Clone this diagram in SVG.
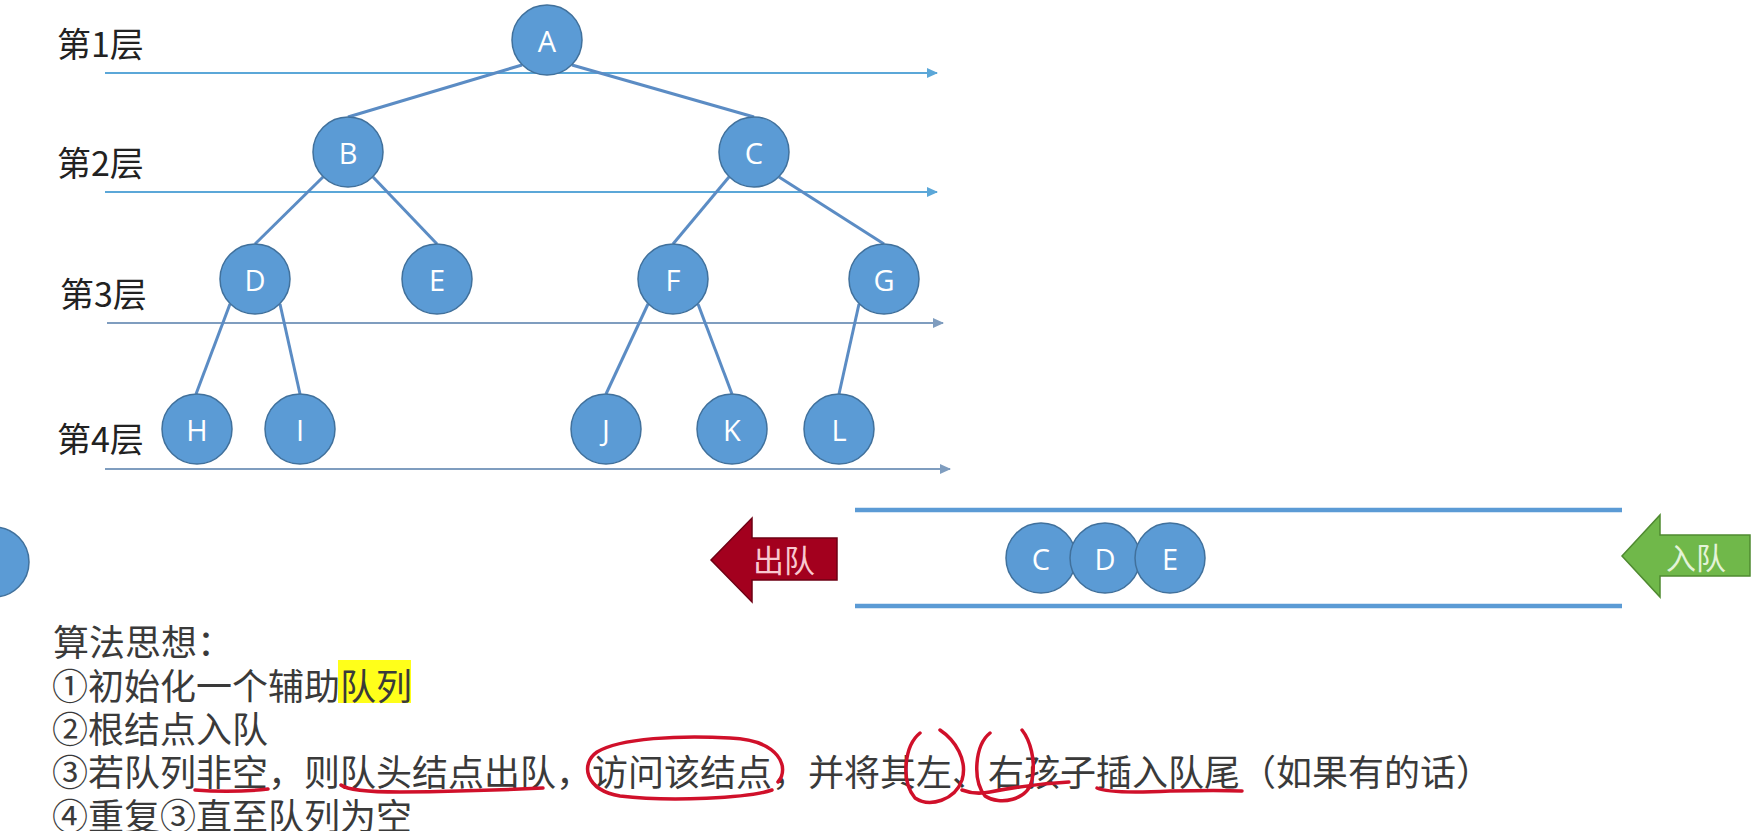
<svg xmlns="http://www.w3.org/2000/svg" width="1764" height="831" viewBox="0 0 1764 831">
<defs>
<marker id="ah1" markerWidth="12" markerHeight="10" refX="10" refY="5" orient="auto" markerUnits="userSpaceOnUse"><path d="M0,0 L11,5 L0,10 Z" fill="#5ba7d8"/></marker>
<marker id="ah2" markerWidth="12" markerHeight="10" refX="10" refY="5" orient="auto" markerUnits="userSpaceOnUse"><path d="M0,0 L11,5 L0,10 Z" fill="#7f9dbf"/></marker>
<style>
.nd{fill:#5b9bd5;stroke:#41719c;stroke-width:1.5}
.nt{fill:#ffffff;font-family:"Open Sans","Liberation Sans",sans-serif;font-size:29px;text-anchor:middle;dominant-baseline:central}
.edge{stroke:#5b8cc4;stroke-width:3;fill:none}
.lvl1{stroke:#5ba7d8;stroke-width:2;fill:none;marker-end:url(#ah1)}
.lvl2{stroke:#7f9dbf;stroke-width:2;fill:none;marker-end:url(#ah2)}
.lbl{font-family:"Noto Sans CJK SC","Noto Sans",sans-serif;font-size:34px;fill:#222}
.body{font-family:"Noto Sans CJK SC","Noto Sans",sans-serif;font-size:36px;fill:#3a3a3a}
.qline{stroke:#5b9bd5;stroke-width:4.5}
.red{stroke:#d0102a;stroke-width:3.5;fill:none;stroke-linecap:round;stroke-linejoin:round}
</style>
</defs>
<rect width="1764" height="831" fill="#ffffff"/>

<g id="levels">
<line class="lvl1" x1="105" y1="73" x2="937" y2="73"/>
<line class="lvl1" x1="105" y1="192" x2="937" y2="192"/>
<line class="lvl2" x1="107" y1="323" x2="943" y2="323"/>
<line class="lvl2" x1="105" y1="469" x2="950" y2="469"/>
<text class="lbl" x="57" y="57">第1层</text>
<text class="lbl" x="57" y="176">第2层</text>
<text class="lbl" x="60" y="307">第3层</text>
<text class="lbl" x="57" y="452">第4层</text>
</g>

<g id="connectors">
<line class="edge" x1="522" y1="65" x2="348" y2="117"/>
<line class="edge" x1="572" y1="65" x2="754" y2="117"/>
<line class="edge" x1="323" y1="177" x2="255" y2="244"/>
<line class="edge" x1="373" y1="177" x2="437" y2="244"/>
<line class="edge" x1="729" y1="177" x2="673" y2="244"/>
<line class="edge" x1="779" y1="177" x2="884" y2="244"/>
<line class="edge" x1="230" y1="304" x2="196" y2="394"/>
<line class="edge" x1="280" y1="304" x2="300" y2="394"/>
<line class="edge" x1="648" y1="304" x2="606" y2="394"/>
<line class="edge" x1="698" y1="304" x2="732" y2="394"/>
<line class="edge" x1="859" y1="304" x2="839" y2="394"/>
</g>

<g id="node-A"><circle class="nd" cx="547" cy="40" r="35"/><text class="nt" x="547" y="40">A</text></g>
<g id="node-B"><circle class="nd" cx="348" cy="152" r="35"/><text class="nt" x="348" y="152">B</text></g>
<g id="node-C"><circle class="nd" cx="754" cy="152" r="35"/><text class="nt" x="754" y="152">C</text></g>
<g id="node-D"><circle class="nd" cx="255" cy="279" r="35"/><text class="nt" x="255" y="279">D</text></g>
<g id="node-E"><circle class="nd" cx="437" cy="279" r="35"/><text class="nt" x="437" y="279">E</text></g>
<g id="node-F"><circle class="nd" cx="673" cy="279" r="35"/><text class="nt" x="673" y="279">F</text></g>
<g id="node-G"><circle class="nd" cx="884" cy="279" r="35"/><text class="nt" x="884" y="279">G</text></g>
<g id="node-H"><circle class="nd" cx="197" cy="429" r="35"/><text class="nt" x="197" y="429">H</text></g>
<g id="node-I"><circle class="nd" cx="300" cy="429" r="35"/><text class="nt" x="300" y="429">I</text></g>
<g id="node-J"><circle class="nd" cx="606" cy="429" r="35"/><text class="nt" x="606" y="429">J</text></g>
<g id="node-K"><circle class="nd" cx="732" cy="429" r="35"/><text class="nt" x="732" y="429">K</text></g>
<g id="node-L"><circle class="nd" cx="839" cy="429" r="35"/><text class="nt" x="839" y="429">L</text></g>

<g id="node-B-out"><circle class="nd" cx="-6" cy="562" r="35"/></g>

<g id="queue">
<line class="qline" x1="855" y1="510" x2="1622" y2="510"/>
<line class="qline" x1="855" y1="606" x2="1622" y2="606"/>
</g>
<g id="q-C"><circle class="nd" cx="1041" cy="558" r="35"/><text class="nt" x="1041" y="558">C</text></g>
<g id="q-D"><circle class="nd" cx="1105" cy="558" r="35"/><text class="nt" x="1105" y="558">D</text></g>
<g id="q-E"><circle class="nd" cx="1170" cy="558" r="35"/><text class="nt" x="1170" y="558">E</text></g>

<g id="dequeue">
<path d="M711,560 L752,518 L752,538 L837,538 L837,580 L752,580 L752,602 Z" fill="#a3001e" stroke="#6e0014" stroke-width="1.5"/>
<text x="753" y="572" font-family="'Noto Sans CJK SC',sans-serif" font-size="31" fill="#f9c8d0">出队</text>
</g>
<g id="enqueue">
<path d="M1622,556 L1660,515 L1660,535 L1750,535 L1750,576 L1660,576 L1660,597 Z" fill="#70b84a" stroke="#4f8a30" stroke-width="1.5"/>
<text x="1666" y="569" font-family="'Noto Sans CJK SC',sans-serif" font-size="30" fill="#e4f3d8">入队</text>
</g>

<g id="algorithm">
<rect x="338" y="660" width="73" height="43" fill="#ffff1a"/>
<text class="body" x="53" y="656">算法思想：</text>
<text class="body" x="52" y="700">①初始化一个辅助队列</text>
<text class="body" x="52" y="743">②根结点入队</text>
<text class="body" x="52" y="786" textLength="1440" lengthAdjust="spacing">③若队列非空，则队头结点出队，访问该结点，并将其左、右孩子插入队尾（如果有的话）</text>
<text class="body" x="52" y="830">④重复③直至队列为空</text>
</g>

<g id="annotations">
<path class="red" d="M195,790 Q232,793 268,789"/>
<path class="red" d="M341,785 Q350,792 400,792 Q480,791 543,788"/>
<path class="red" d="M778,782 C790,768 780,740 730,738 C680,735 620,738 597,752 C580,764 585,790 620,796 C670,802 750,798 772,790"/>
<path class="red" d="M920,733 C905,745 900,780 915,798 C930,808 955,800 962,780 C968,760 955,740 940,730"/>
<path class="red" d="M990,733 C975,745 972,780 985,796 C1000,806 1028,800 1032,780 C1036,760 1030,740 1022,730"/>
<path class="red" d="M962,790 Q975,795 990,792 Q1030,784 1069,782"/>
<path class="red" d="M1097,788 Q1110,794 1170,791 Q1220,790 1242,791"/>
</g>
</svg>
